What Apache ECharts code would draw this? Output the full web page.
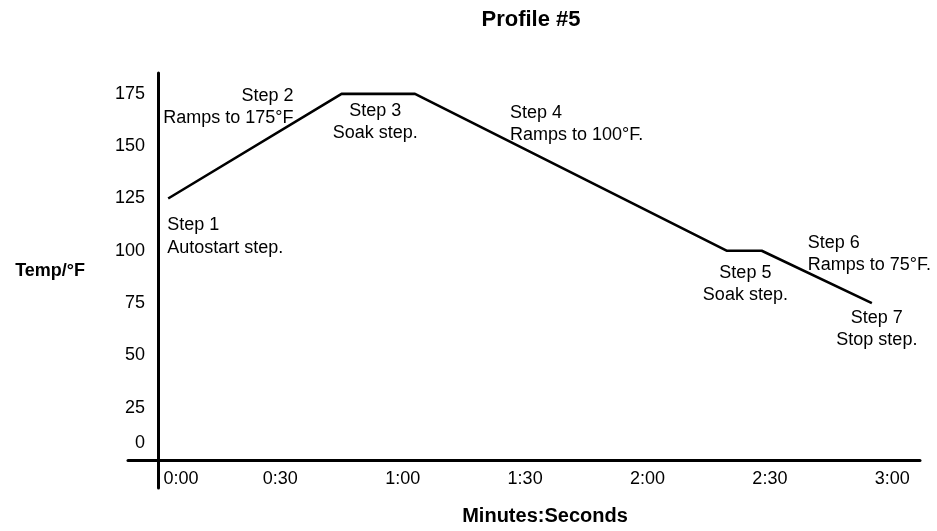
<!DOCTYPE html>
<html>
<head>
<meta charset="utf-8">
<script src="https://cdn.jsdelivr.net/npm/echarts@6/dist/echarts.min.js"></script>
<style>
  html, body { margin: 0; padding: 0; background: #fff; }
  #chart { width: 937px; height: 531px; }
</style>
</head>
<body>
<div id="chart"></div>
<script>
// ---- data ----
const times = [2.5, 45, 63, 139.5, 148, 175];          // seconds
const temps = [125, 175, 175, 100, 100, 75];           // °F
const xTickValues = [0, 30, 60, 90, 120, 150, 180];
const xTickLabels = ['0:00', '0:30', '1:00', '1:30', '2:00', '2:30', '3:00'];
const yTickValues = [0, 25, 50, 75, 100, 125, 150, 175];
const stepTexts = [
  'Step 1\nAutostart step.',
  'Step 2\nRamps to 175°F',
  'Step 3\nSoak step.',
  'Step 4\nRamps to 100°F.',
  'Step 5\nSoak step.',
  'Step 6\nRamps to 75°F.',
  'Step 7\nStop step.'
];
// which profile points each step note is anchored to (one index = at that point, two = between them)
const stepAnchors = [[0], [1], [1, 2], [2], [3, 4], [4], [5]];

// ---- styling of notes (pixel offsets, alignment) ----
const noteStyle = [
  { align: 'left',   offset: [-1, 38] },
  { align: 'right',  offset: [-48, 13] },
  { align: 'center', offset: [-3, 28] },
  { align: 'left',   offset: [95, 30] },
  { align: 'center', offset: [1, 33] },
  { align: 'left',   offset: [46, 3] },
  { align: 'center', offset: [5, 26] }
];

const FONT = '"Liberation Sans", Arial, sans-serif';
const lineData = times.map((t, i) => [t, temps[i]]);

const notePoints = stepTexts.map((txt, i) => {
  const a = stepAnchors[i];
  const t = a.reduce((s, k) => s + times[k], 0) / a.length;
  const v = a.reduce((s, k) => s + temps[k], 0) / a.length;
  return {
    coord: [t, v],
    symbol: 'circle',
    symbolSize: 1,
    itemStyle: { color: 'rgba(0,0,0,0)' },
    label: {
      show: true,
      formatter: txt,
      position: 'inside',
      align: noteStyle[i].align,
      verticalAlign: 'middle',
      offset: noteStyle[i].offset,
      color: '#000',
      fontFamily: FONT,
      fontSize: 18,
      lineHeight: 22.5
    }
  };
});

const chart = echarts.init(document.getElementById('chart'), null, { renderer: 'canvas' });
chart.setOption({
  backgroundColor: '#fff',
  animation: false,
  title: {
    text: 'Profile #5',
    left: 526,
    top: 4,
    textAlign: 'center',
    textStyle: { fontFamily: FONT, fontSize: 22, fontWeight: 'bold', color: '#000' }
  },
  grid: { left: 128, right: 17, top: 73, bottom: 43, containLabel: false, outerBoundsMode: 'none' },
  xAxis: {
    type: 'value',
    min: -7.35,
    max: 186.8,
    name: 'Minutes:Seconds',
    nameLocation: 'middle',
    nameGap: 18,
    nameTextStyle: { fontFamily: FONT, fontSize: 20, fontWeight: 'bold', color: '#000', padding: [0, 0, 0, 42] },
    axisLine: { onZero: true, lineStyle: { color: '#000', width: 3 } },
    axisTick: { show: false },
    splitLine: { show: false },
    axisLabel: {
      customValues: xTickValues,
      margin: -18,
      fontFamily: FONT,
      fontSize: 18,
      color: '#000',
      formatter: (v) => {
        const i = xTickValues.indexOf(v);
        const s = i >= 0 ? xTickLabels[i] : '';
        return v === 0 ? '{first|' + s + '}' : s;
      },
      rich: { first: { fontFamily: FONT, fontSize: 18, color: '#000', padding: [0, 0, 0, 46] } }
    }
  },
  yAxis: {
    type: 'value',
    min: -13.4,
    max: 185,
    name: 'Temp/°F',
    nameLocation: 'middle',
    nameRotate: 0,
    nameGap: 43,
    nameTextStyle: { fontFamily: FONT, fontSize: 18, fontWeight: 'bold', color: '#000', verticalAlign: 'bottom' },
    axisLine: { onZero: true, lineStyle: { color: '#000', width: 3 } },
    axisTick: { show: false },
    splitLine: { show: false },
    axisLabel: {
      customValues: yTickValues,
      margin: -17,
      fontFamily: FONT,
      fontSize: 18,
      color: '#000',
      formatter: (v) => (v === 0 ? '{zero|0}' : String(v)),
      rich: { zero: { fontFamily: FONT, fontSize: 18, color: '#000', padding: [0, 0, 34, 0] } }
    }
  },
  series: [{
    type: 'line',
    data: lineData,
    symbol: 'none',
    lineStyle: { color: '#000', width: 2.6 },
    markPoint: { data: notePoints, silent: true }
  }]
});
</script>
</body>
</html>
